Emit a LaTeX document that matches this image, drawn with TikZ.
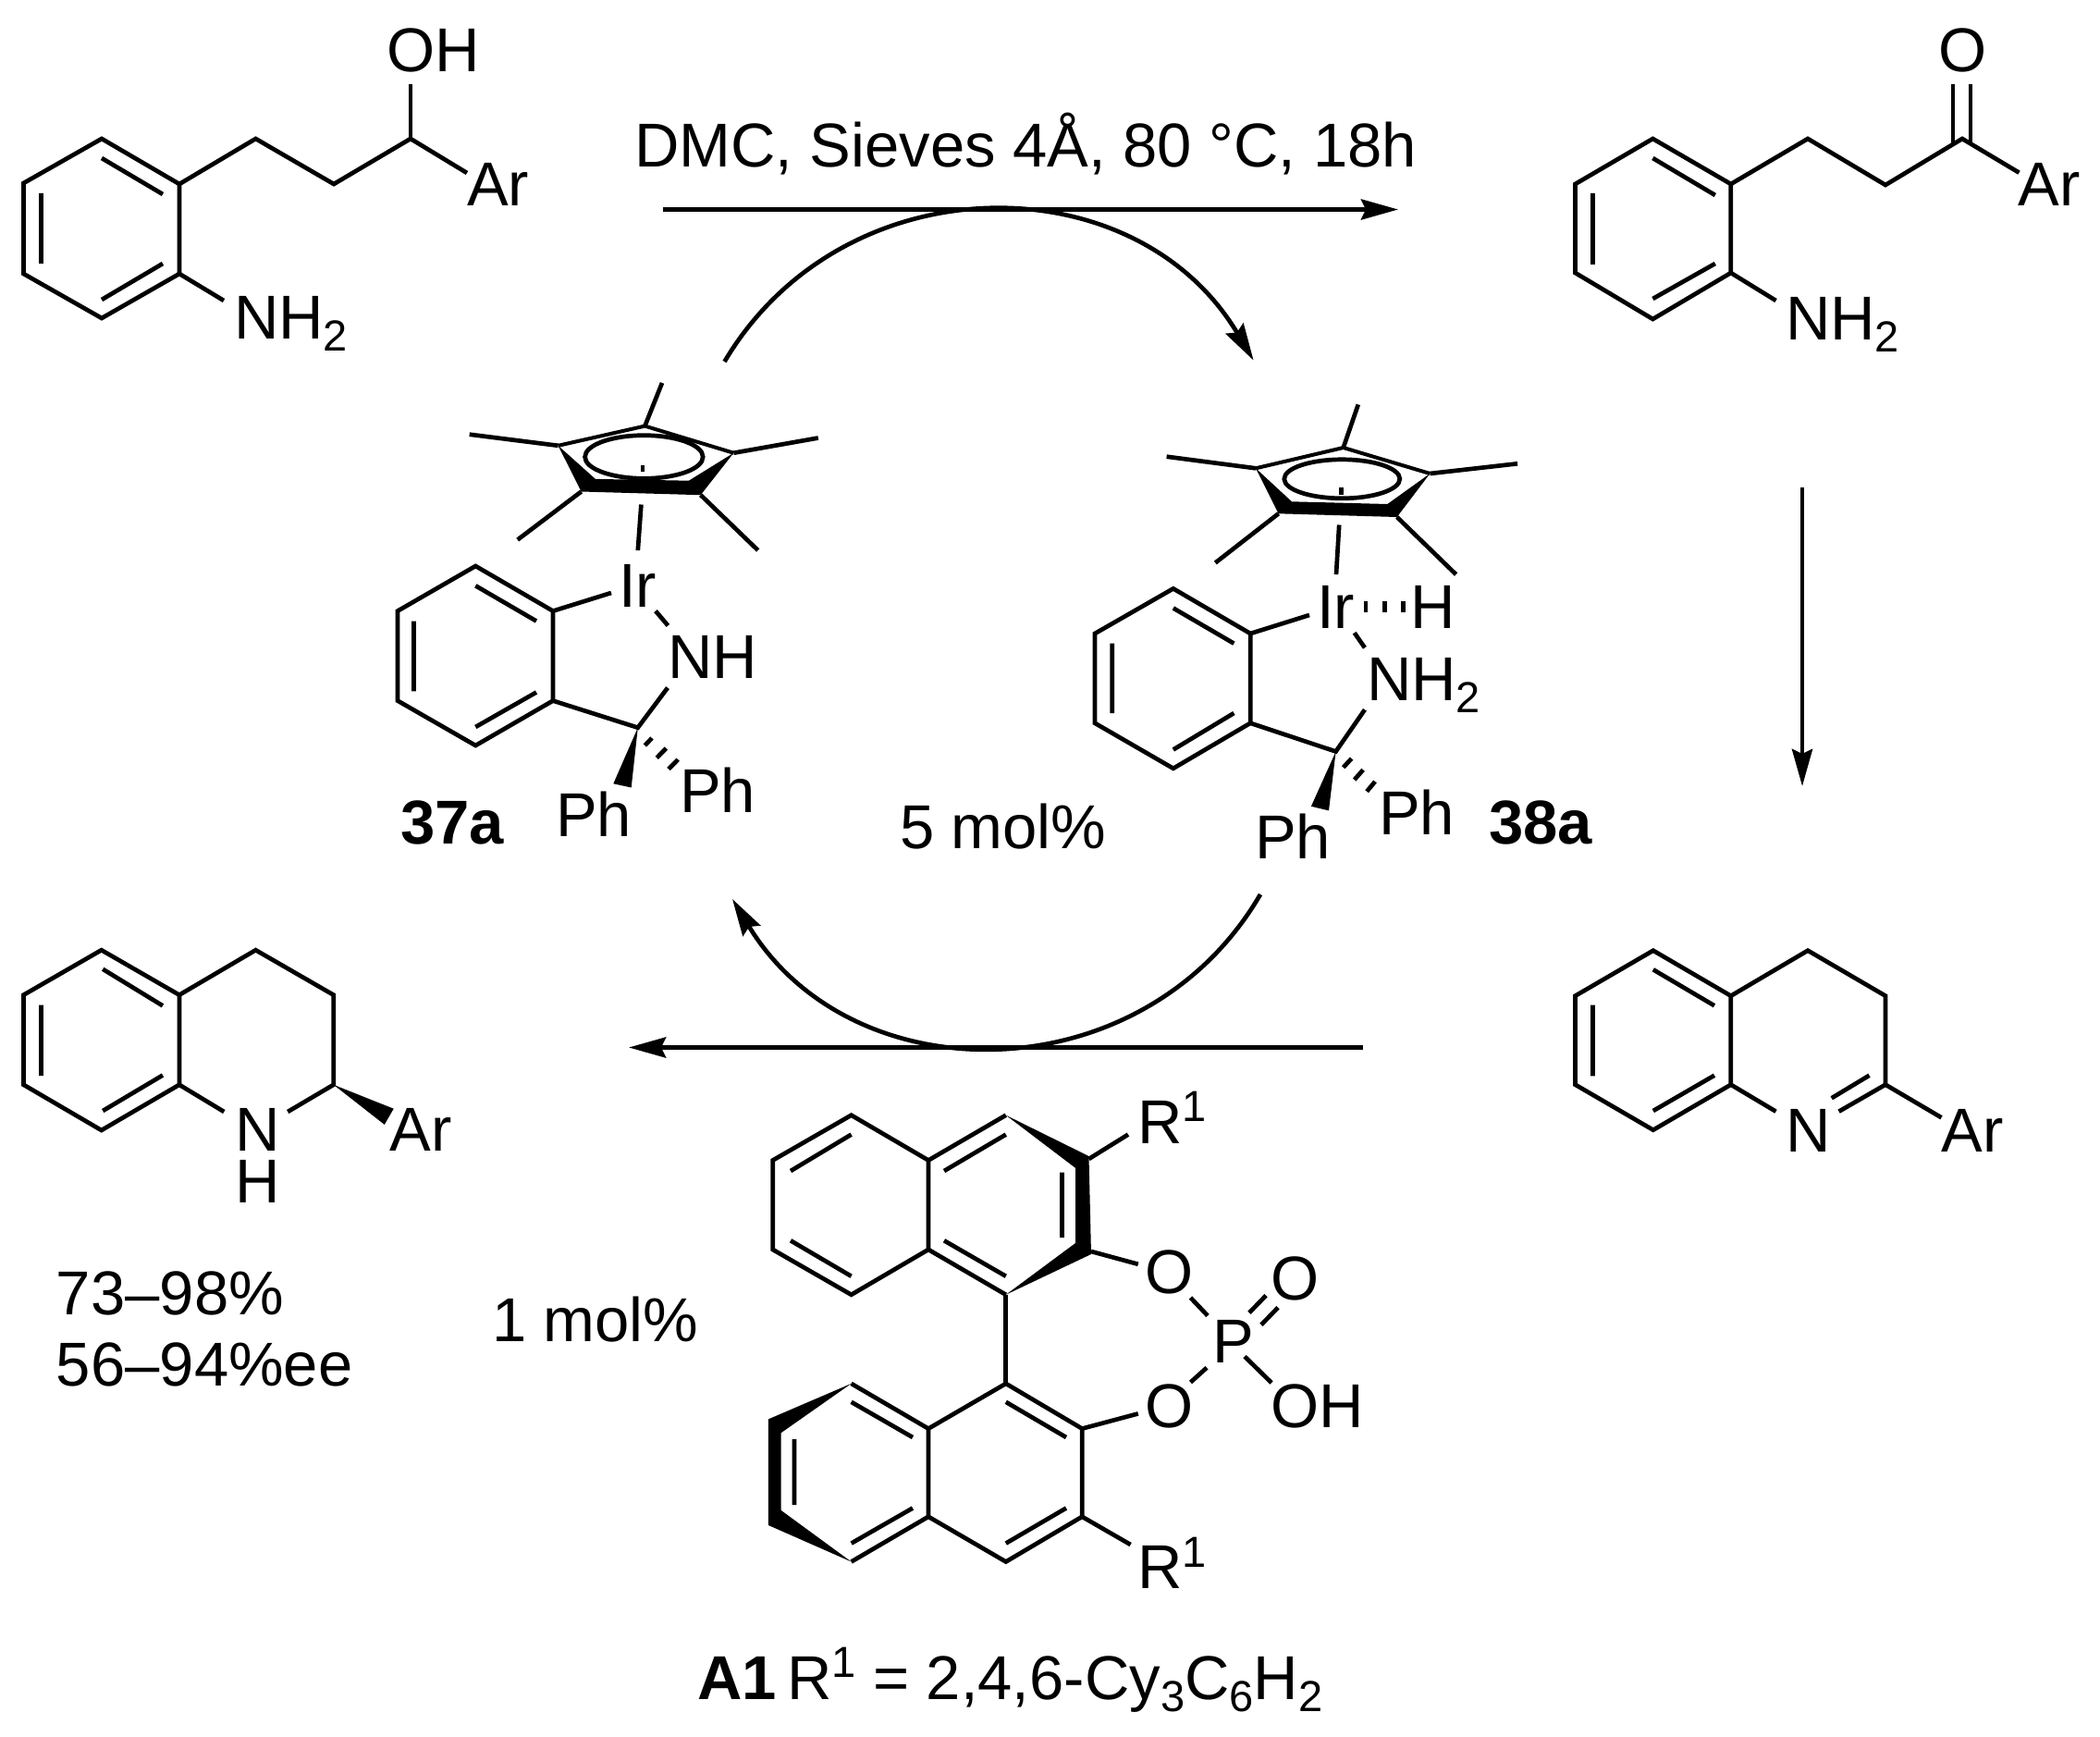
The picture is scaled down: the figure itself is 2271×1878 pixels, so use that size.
\documentclass[tikz,border=0pt]{standalone}
\usepackage{fontspec}
\setmainfont{Liberation Sans}
\usetikzlibrary{arrows.meta}
\newcommand{\sbs}[1]{\lower 6.6pt\hbox{\fontsize{23.5}{23.5}\selectfont #1}}
\newcommand{\sps}[1]{\raise 11.6pt\hbox{\fontsize{23.5}{23.5}\selectfont #1}}
\newcommand{\pts}[1]{\foreach \n/\xx/\yy in {#1} {\coordinate (\n) at (\xx,\yy);}}
\tikzset{
  x=0.5pt,y=-0.5pt,
  bond/.style={line width=2.35pt,black,line join=miter},
  wedge/.style={fill=black,draw=none},
  lab/.style={inner sep=0pt,outer sep=0pt,anchor=base west,font=\fontsize{33.5}{33.5}\selectfont,text=black},
  blab/.style={lab,font=\fontsize{33.5}{33.5}\selectfont\bfseries},
  arw/.style={line width=2.35pt,black,-{Stealth[length=20pt,width=11pt,inset=2.5pt]}}
}
\begin{document}
\begin{tikzpicture}
\useasboundingbox (0,0) rectangle (2271,1878);
% ---------- arrows
\pts{arS1/717/226.5,arE1/1512/226.5,arS2/1949/527,arE2/1949/850,arS3/1474/1132.5,arE3/680/1132.5,
     cuA/783.5/391,cuB/1355.6/389.6,cuC/1363/967,cuD/792/972}
\draw[arw] (arS1) -- (arE1);
\draw[arw] (arS2) -- (arE2);
\draw[arw] (arS3) -- (arE3);
\draw[arw] (cuA) .. controls (911.3,175.4) and (1227.1,173.9) .. (cuB);
\draw[arw] (cuC) .. controls (1236.7,1183.4) and (921.8,1186.1) .. (cuD);
\node[lab] (cond) at (686,181) {DMC, Sieves 4Å, 80 °C, 18h};
% ---------- substrate
\pts{a1/25.5/198,a2/110/150,a3/194/199,a4/194/296,a5/110/344,a6/25.5/296,
     a7/276.5/150,a8/361/199,a9/444/150,aO/444/91,aAr/505/187,aN/242/325}
\draw[bond] (a1)--(a2)--(a3)--(a4)--(a5)--(a6)--cycle;
\draw[bond] (a3)--(a7)--(a8)--(a9)--(aAr);
\draw[bond] (a9)--(aO);
\draw[bond] (a4)--(aN);
\draw[bond] (110,171)--(176,210) (44.4,209)--(44.4,285) (110,324)--(176,285);
\node[lab] (aOH) at (418,77.6) {OH};
\node[lab] (aArl) at (505,222.4) {Ar};
\node[lab] (aNH) at (253,366.7) {NH\sbs{2}};
% ---------- ketone
\pts{b1/1703.5/199,b2/1787.4/150,b3/1871.8/199,b4/1871.8/295,b5/1787.4/345,b6/1703.5/295,
     b7/1955/150,b8/2039/200,b9/2122/150,bAr/2183.5/186.7,bN/1920.5/325,
     bO1/2112/91,bO2/2131/91,bC1/2112/156,bC2/2131/155.5}
\draw[bond] (b1)--(b2)--(b3)--(b4)--(b5)--(b6)--cycle;
\draw[bond] (b3)--(b7)--(b8)--(b9)--(bAr);
\draw[bond] (b4)--(bN);
\draw[bond] (bO1)--(bC1) (bO2)--(bC2);
\draw[bond] (1787.4,171)--(1854.8,211) (1722.5,209)--(1722.5,286) (1787.4,323)--(1854.8,285);
\node[lab] (bOl) at (2096.5,78) {O};
\node[lab] (bArl) at (2182.7,222.7) {Ar};
\node[lab] (bNH) at (1931,367.7) {NH\sbs{2}};
% ---------- imine
\pts{c1/1703.5/1076.7,c2/1787.8/1027.7,c3/1871.8/1076.7,c4/1871.8/1172.7,c5/1787.8/1221.7,c6/1703.5/1172.7,
     c7/1955/1027.7,c8/2039/1076.7,c9/2039/1172.7,cN1/1920.5/1201.7,cN2/1988.6/1201.7,cAr/2099.5/1208.3}
\draw[bond] (c1)--(c2)--(c3)--(c4)--(c5)--(c6)--cycle;
\draw[bond] (c3)--(c7)--(c8)--(c9)--(cAr);
\draw[bond] (c9)--(cN2);
\draw[bond] (c4)--(cN1);
\draw[bond] (1980.7,1187.3)--(2021.5,1162.7);
\draw[bond] (1787.8,1048.3)--(1854,1087.3) (1722.5,1086.7)--(1722.5,1163.3) (1787.8,1201)--(1854,1162.7);
\node[lab] (cNl) at (1931,1245) {N};
\node[lab] (cArl) at (2099.5,1245) {Ar};
% ---------- product
\pts{d1/25.5/1075.7,d2/109.7/1027.2,d3/193.9/1075.7,d4/193.9/1172.8,d5/109.7/1222,d6/25.5/1172.8,
     d7/276.5/1027.2,d8/360.7/1075.7,d9/360.7/1172.8,dN1/242.3/1202,dN2/311.2/1202,dW1/425.7/1198.7,dW2/415.8/1215.9}
\draw[bond] (d1)--(d2)--(d3)--(d4)--(d5)--(d6)--cycle;
\draw[bond] (d3)--(d7)--(d8)--(d9)--(dN2);
\draw[bond] (d4)--(dN1);
\fill[wedge] (d9)--(dW1)--(dW2)--cycle;
\draw[bond] (111.2,1047.8)--(176,1087.4) (44.4,1086.7)--(44.4,1163.2) (111.2,1201)--(176,1162.5);
\node[lab,text height=24pt,text depth=0pt] (dNl) at (254,1244.5) {N};
\node[lab,text height=24pt,text depth=0pt] (dHl) at (254,1300) {H};
\node[lab] (dArl) at (421.4,1244.5) {Ar};
\node[lab] (yld) at (61,1421.5) {73–98\%};
\node[lab] (ee) at (61,1498) {56–94\%ee};
\node[lab] (onemol) at (532,1450) {1 mol\%};
% ---------- 37a
\pts{e1/430/660.6,e2/514.3/612,e3/598/660.6,e4/598/757.6,e5/514.3/806,e6/430/757.6,
     eIr/661/641,eI1/709/660.6,eI2/722.4/676.4,eN/722/743.6,eC/689.8/786.7,eW1/663.3/847.3,eW2/682.7/851.5,
     p1/603.6/481.8,p2/697.4/460.6,p3/793.4/489.7,p4/757.7/535.2,p5/628.6/531.5,
     m1/507.7/469.7,m2/716/414,m3/884.8/473.5,m4/819.7/595,m5/559.7/583.6,s1/693.4/545.5,s2/689.8/595}
\draw[bond] (e1)--(e2)--(e3)--(e4)--(e5)--(e6)--cycle;
\draw[bond] (e3)--(eIr);
\draw[bond] (eI1)--(eI2);
\draw[bond] (e4)--(eC)--(eN);
\fill[wedge] (eC)--(eW1)--(eW2)--cycle;
\draw[bond] (514.3,633.3)--(580,671.5) (447.4,671.5)--(447.4,747.3) (514.3,786)--(580,748.5);
\draw[bond] (697.4,806)--(705,798) (710.2,819.4)--(720.4,809) (723,831.5)--(733.2,821.2);
\fill[wedge] (p1)--(p5)--(p4)--(p3)--(744.9,519.7)--(643.9,517.9)--cycle;
\draw[bond,line width=2pt] (p1)--(p2)--(p3);
\draw[bond] (p1)--(m1) (p2)--(m2) (p3)--(m3) (p4)--(m4) (p5)--(m5);
\draw[bond] (696.4,494) ellipse[x radius=63.8,y radius=23.3];
\draw[bond] (695,503)--(695,510);
\draw[bond] (s1)--(s2);
\node[lab] (eIrl) at (669,656.4) {Ir};
\node[lab] (eNH) at (722,733.5) {NH};
\node[lab] (ePh1) at (735,878) {Ph};
\node[lab] (ePh2) at (601,904) {Ph};
\node[blab] (l37) at (433,912) {37a};
% ---------- 38a
\pts{f1/1184/685,f2/1268.8/636.4,f3/1352.2/685,f4/1352.2/781.8,f5/1268.8/830.8,f6/1184/781.8,
     fIr/1416/665,fI1/1464.7/684.2,fI2/1475.9/700.3,fN/1475.9/767.3,fC/1444.6/812.5,fW1/1417.9/871.8,fW2/1437/876.4,
     q1/1358/506.3,q2/1452.7/484,q3/1546.4/512,q4/1510.7/559,q5/1382.6/555.3,
     n1/1261.6/493.7,n2/1468.8/437.4,n3/1641/501.3,n4/1574.6/621.1,n5/1314.3/608.5,t1/1448.2/567.5,t2/1445/621}
\draw[bond] (f1)--(f2)--(f3)--(f4)--(f5)--(f6)--cycle;
\draw[bond] (f3)--(fIr);
\draw[bond] (fI1)--(fI2);
\draw[bond] (f4)--(fC)--(fN);
\fill[wedge] (fC)--(fW1)--(fW2)--cycle;
\draw[bond] (1268.8,657.5)--(1334.4,695.7) (1202.7,695.7)--(1202.7,771) (1268.8,810.5)--(1334.4,771);
\draw[bond] (1452.7,829.7)--(1461.6,820.1) (1464.7,843)--(1474.1,832.3) (1478.1,855.7)--(1487,845);
\draw[bond] (1477,649.8)--(1477,662.4) (1497.3,649.8)--(1497.3,662.4) (1517.4,649.8)--(1517.4,662.4);
\fill[wedge] (q1)--(q5)--(q4)--(q3)--(1500.4,545)--(1396.9,542.3)--cycle;
\draw[bond,line width=2pt] (q1)--(q2)--(q3);
\draw[bond] (q1)--(n1) (q2)--(n2) (q3)--(n3) (q4)--(n4) (q5)--(n5);
\draw[bond] (1451.3,517.8) ellipse[x radius=62.5,y radius=21];
\draw[bond] (1450.4,527.3)--(1450.4,535);
\draw[bond] (t1)--(t2);
\node[lab] (fIrl) at (1424,679.3) {Ir};
\node[lab] (fHl) at (1525,679.3) {H};
\node[lab] (fNH) at (1478,757) {NH\sbs{2}};
\node[lab] (fPh1) at (1491,902.4) {Ph};
\node[lab] (fPh2) at (1357,928) {Ph};
\node[blab] (l38) at (1610,912.7) {38a};
\node[lab] (fivemol) at (973,917.7) {5 mol\%};
% ---------- A1
\pts{g1/835.7/1254.5,g2/920.6/1205.7,g3/1004/1254.5,g4/1004/1351,g5/920.6/1399.8,g6/835.7/1351,
     g7/1087.8/1205.7,g8/1177.5/1250,g9/1180/1356,g10/1087.8/1399.8,g11/1163/1344,g12/1163/1262.8,
     gR/1220/1226.6,gRb/1177.5/1253,gO1/1230.8/1366.8,gOb/1180/1353,
     gP1/1287.5/1403,gP2/1306/1422.5,gP3/1305/1478.7,gP4/1287.5/1494.5,gP5/1346/1466.6,gP6/1375/1495,
     gD1/1351/1419.3,gD2/1369/1400.7,gD3/1364/1432.3,gD4/1382/1413.7,gO2/1230.8/1528.4,
     h1/1087.8/1495.9,h2/1170.2/1544.6,h3/1170.2/1639.8,h4/1087.8/1688.5,h5/1004/1639.8,h6/1004/1544.6,
     h7/920.6/1495.9,h8/830.9/1534.4,h9/830.9/1649,h10/920.6/1688.5,h11/844.5/1632.8,h12/844.5/1549.3,hR/1222.6/1670}
\draw[bond] (g1)--(g2)--(g3)--(g4)--(g5)--(g6)--cycle;
\draw[bond] (g3)--(g7);
\draw[bond] (g4)--(g10);
\fill[wedge] (g7)--(g8)--(g9)--(g10)--(g11)--(g12)--cycle;
\draw[bond] (855,1266)--(920.6,1226.6) (855,1341.3)--(920.6,1379.8) (1021,1266)--(1087.8,1226.6) (1021,1341.3)--(1087.8,1379.8) (1148.4,1267.5)--(1148.4,1338);
\draw[bond] (gRb)--(gR);
\draw[bond] (gOb)--(gO1);
\draw[bond] (gP1)--(gP2) (gP3)--(gP4) (gP5)--(gP6);
\draw[bond] (gD1)--(gD2) (gD3)--(gD4);
\draw[bond] (gO2)--(h2);
\draw[bond] (g10)--(h1);
\draw[bond] (h1)--(h2)--(h3)--(h4)--(h5)--(h6)--cycle;
\draw[bond] (h5)--(h10) (h6)--(h7);
\fill[wedge] (h7)--(h8)--(h9)--(h10)--(h11)--(h12)--cycle;
\draw[bond] (920.6,1515.8)--(987,1554) (920.6,1668.6)--(987,1630.5) (859,1556)--(859,1627) (1087.8,1515.8)--(1153,1554) (1087.8,1668.6)--(1153,1630.5);
\draw[bond] (h3)--(hR);
\node[lab] (gR1) at (1230,1236) {R\sps{1}};
\node[lab] (gOa) at (1238,1398.4) {O};
\node[lab] (gPl) at (1311,1473.6) {P};
\node[lab] (gOc) at (1374,1405.3) {O};
\node[lab] (gOH) at (1374,1543) {OH};
\node[lab] (gOd) at (1238,1543) {O};
\node[lab] (hR1) at (1230,1717.3) {R\sps{1}};
\node[blab] (lA1) at (754,1837) {A1};
\node[lab] (capt) at (851,1837) {R\sps{1} = 2,4,6-Cy\sbs{3}C\sbs{6}H\sbs{2}};
\end{tikzpicture}
\end{document}
